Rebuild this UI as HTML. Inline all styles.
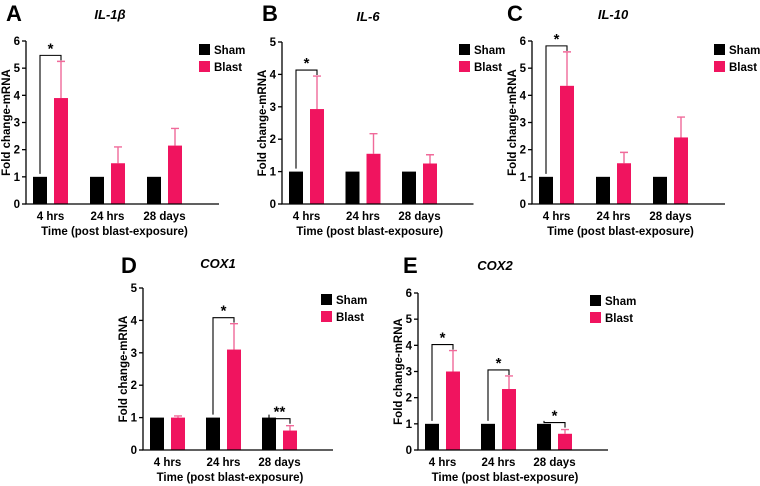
<!DOCTYPE html>
<html><head><meta charset="utf-8"><style>
body{margin:0;background:#fff;}
svg{display:block;font-family:"Liberation Sans",Arial,sans-serif;font-weight:bold;}
</style></head><body>
<svg id="fig" width="760" height="486" viewBox="0 0 760 486"></svg>
<script>
const categories = ["4 hrs","24 hrs","28 days"];
const shamA = [1,1,1], blastA = [3.9,1.5,2.15], errA = [5.25,2.1,2.78];
const shamB = [1,1,1], blastB = [2.93,1.55,1.25], errB = [3.95,2.17,1.52];
const shamC = [1,1,1], blastC = [4.35,1.5,2.45], errC = [5.6,1.9,3.2];
const shamD = [1,1,1], blastD = [1.0,3.1,0.6], errD = [1.05,3.9,0.75];
const shamE = [1,1,1], blastE = [3.0,2.33,0.62], errE = [3.8,2.83,0.78];
const ticksA = [0,1,2,3,4,5,6], ticksB = [0,1,2,3,4,5], ticksC = [0,1,2,3,4,5,6], ticksD = [0,1,2,3,4,5], ticksE = [0,1,2,3,4,5,6];
const sigA = [{g:0,t:"*"}], sigB = [{g:0,t:"*"}], sigC = [{g:0,t:"*"}];
const sigD = [{g:1,t:"*"},{g:2,t:"**"}], sigE = [{g:0,t:"*"},{g:1,t:"*"},{g:2,t:"*"}];

const NS="http://www.w3.org/2000/svg";
const svg=document.getElementById('fig');
function mk(tag,attrs,parent,txt){const e=document.createElementNS(NS,tag);for(const k in attrs)e.setAttribute(k,attrs[k]);if(txt!==undefined)e.textContent=txt;(parent||svg).appendChild(e);return e;}

function panel(p){
  const g=mk('g',{});
  
  
  const ymax=p.ticks[p.ticks.length-1];
  const Y=v=>p.y0-(v/ymax)*(p.y0-p.ytop);
  const gx=i=>p.ax+7+i*p.step;
  const L=mk('text',{x:p.lx,y:p.ly,'font-size':22},g,p.id);
  
  const T=mk('text',{x:p.tx,y:p.ty,'font-size':13,'font-style':'italic','text-anchor':'middle'},g,p.title);
  
  for(let i=0;i<categories.length;i++){
    const sx=gx(i), bx=sx+21;
    const s=mk('rect',{x:sx,y:Y(p.sham[i]),width:14,height:p.y0-Y(p.sham[i]),fill:'#000'},g);
    
    const ec=bx+7;
    const el=mk('path',{d:`M${ec},${Y(p.blast[i])}V${Y(p.err[i])}M${ec-4},${Y(p.err[i])}H${ec+4}`,stroke:'#f06a9a','stroke-width':1.4,fill:'none'},g);
    
    const b=mk('rect',{x:bx,y:Y(p.blast[i]),width:14,height:p.y0-Y(p.blast[i]),fill:'#f0145f'},g);
    
    const tl=mk('text',{x:sx+17.5,y:p.y0+16,'font-size':11.5,'text-anchor':'middle'},g,categories[i]);
    
  }
  const ax=mk('path',{d:`M${p.ax},${p.ytop}V${p.y0}H${p.ax+3*p.step+p.tail}`,stroke:'#000','stroke-width':1.3,fill:'none'},g);
  
  for(const t of p.ticks){
    mk('line',{x1:p.ax-4,x2:p.ax,y1:Y(t),y2:Y(t),stroke:'#000','stroke-width':1.3},g);
    const yl=mk('text',{x:p.ax-6,y:Y(t)+4,'font-size':11.5,'text-anchor':'end'},g,t);
    
  }
  const yt=mk('text',{x:0,y:0,'font-size':11.5,'text-anchor':'middle',transform:`translate(${p.ax-16},${(p.y0+p.ytop)/2}) rotate(-90)`},g,'Fold change-mRNA');
  
  const xt=mk('text',{x:p.ax+3*p.step/2+3,y:p.y0+31,'font-size':11.5,'text-anchor':'middle'},g,'Time (post blast-exposure)');
  
  for(const s of p.sig){
    const sc=gx(s.g)+7, bc=gx(s.g)+28;
    const top=Math.max(Y(p.err[s.g]),Y(p.sham[s.g]))-7;
    const by=Math.min(top,Y(p.err[s.g])-6);
    const br=mk('path',{d:`M${sc},${Y(p.sham[s.g])-3}V${by}H${bc}V${by+5}`,stroke:'#000','stroke-width':1.1,fill:'none'},g);
    
    const st=mk('text',{x:(sc+bc)/2,y:by-2,'font-size':15,'text-anchor':'middle'},g,s.t);
    
  }
  const lg=mk('g',{},g);
  
  [['Sham','#000'],['Blast','#f0145f']].forEach((e,k)=>{
    mk('rect',{x:p.legx,y:p.legy+k*17-5,width:11,height:11,fill:e[1]},lg);
    const lt=mk('text',{x:p.legx+15,y:p.legy+k*17+5,'font-size':11.5},lg,e[0]);
    
  });
}
panel({id:'A',title:'IL-1β',ax:26,y0:204,ytop:41,step:57,tail:22,ticks:ticksA,sham:shamA,blast:blastA,err:errA,sig:sigA,lx:6,ly:21,tx:110,ty:19,legx:199,legy:49});
panel({id:'B',title:'IL-6',ax:282,y0:204,ytop:42,step:56.5,tail:22,ticks:ticksB,sham:shamB,blast:blastB,err:errB,sig:sigB,lx:262,ly:21,tx:368,ty:21,legx:459,legy:49});
panel({id:'C',title:'IL-10',ax:532,y0:204,ytop:41,step:57,tail:22,ticks:ticksC,sham:shamC,blast:blastC,err:errC,sig:sigC,lx:507,ly:21,tx:613,ty:19,legx:714,legy:49});
panel({id:'D',title:'COX1',ax:143,y0:450,ytop:288,step:56,tail:22,ticks:ticksD,sham:shamD,blast:blastD,err:errD,sig:sigD,lx:121,ly:273,tx:218,ty:268,legx:321,legy:299});
panel({id:'E',title:'COX2',ax:418,y0:450,ytop:293,step:56,tail:22,ticks:ticksE,sham:shamE,blast:blastE,err:errE,sig:sigE,lx:403,ly:273,tx:495,ty:270,legx:590,legy:300});
</script>
</body></html>
